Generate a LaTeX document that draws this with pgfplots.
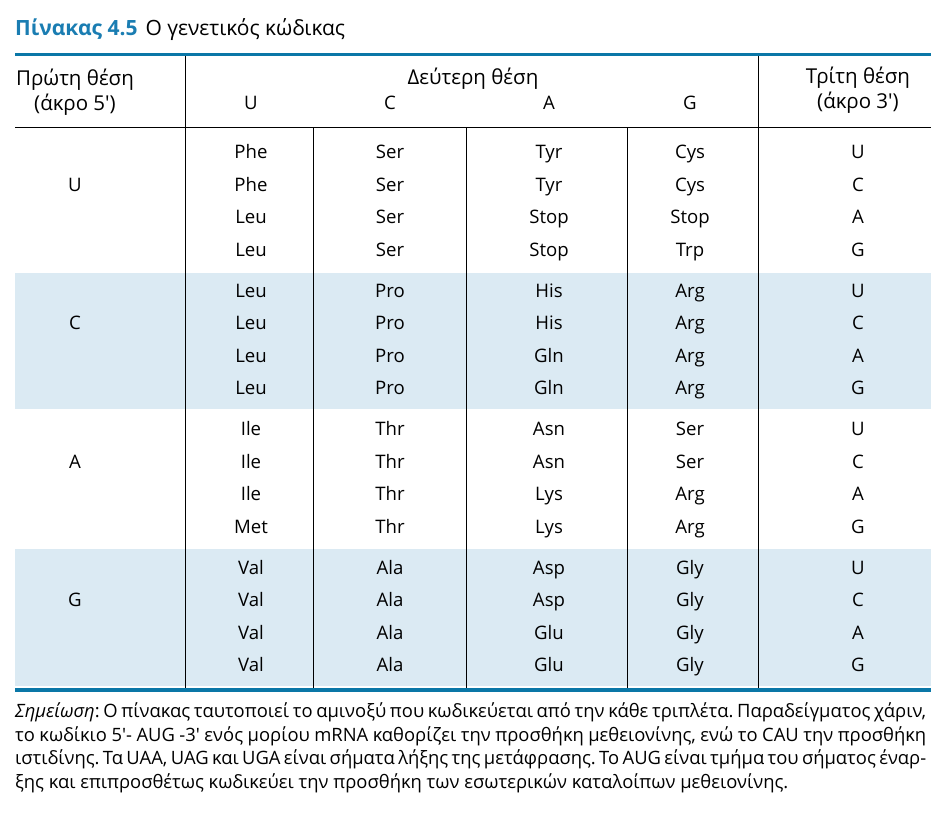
\documentclass[border=0pt]{standalone}
\usepackage{fontspec}
\setmainfont{Open Sans}
\usepackage{pgfplots}
\pgfplotsset{compat=1.18}
\definecolor{rulecol}{HTML}{0A77A7}
\definecolor{titleblue}{HTML}{1A7DB2}
\definecolor{rowshade}{HTML}{DBEAF3}
\frenchspacing

% one table cell: x, baseline y, text
\newcommand\cell[3]{\node[anchor=base,inner sep=0pt,font=\fontsize{18.6}{20}\selectfont] at (axis cs:#1,#2) {#3};}
\newcommand\row[6]{\cell{251}{#1}{#2}\cell{390}{#1}{#3}\cell{549}{#1}{#4}\cell{690}{#1}{#5}\cell{858}{#1}{#6}}
\newcommand\hd[3]{\node[anchor=base,inner sep=0pt,font=\fontsize{20.5}{22}\selectfont] at (axis cs:#1,#2) {#3};}
\newcommand\noteline[2]{\node[anchor=base west,inner sep=0pt,font=\fontsize{18.4}{20}\selectfont] at (axis cs:15,#1) {#2};}

\begin{document}
\begin{tikzpicture}
\begin{axis}[width=949pt,height=813pt,scale only axis,
  xmin=0,xmax=949,ymin=0,ymax=813,y dir=reverse,hide axis,clip=false]
  \path (axis cs:0,0) rectangle (axis cs:949,813);
  % shaded groups
  \fill[rowshade] (axis cs:15,273.3) rectangle (axis cs:931,409.3);
  \fill[rowshade] (axis cs:15,549.3) rectangle (axis cs:931,685.5);
  % title
  \node[anchor=base west,inner sep=0pt,font=\fontsize{21}{22}\selectfont] at (axis cs:15,36)
    {\textcolor{titleblue}{\bfseries Πίνακας 4.5}\hspace{8pt}Ο γενετικός κώδικας};
  % rules
  \draw[rulecol,line width=3.3pt] (axis cs:15,54.5) -- (axis cs:931,54.5);
  \draw[rulecol,line width=3.3pt] (axis cs:15,690) -- (axis cs:931,690);
  \draw[black,line width=1pt] (axis cs:15,127.5) -- (axis cs:931,127.5);
  \draw[black,line width=1pt] (axis cs:185.3,56) -- (axis cs:185.3,688.3);
  \draw[black,line width=1pt] (axis cs:758.7,56) -- (axis cs:758.7,688.3);
  \draw[black,line width=1pt] (axis cs:313.3,127.5) -- (axis cs:313.3,688.3);
  \draw[black,line width=1pt] (axis cs:466.7,127.5) -- (axis cs:466.7,688.3);
  \draw[black,line width=1pt] (axis cs:627,127.5) -- (axis cs:627,688.3);
  % header
  \hd{75}{86}{Πρώτη θέση}
  \hd{75}{110.5}{(άκρο 5′)}
  \hd{473}{85}{Δεύτερη θέση}
  \hd{858}{84}{Τρίτη θέση}
  \hd{858}{109}{(άκρο 3′)}
  \cell{251}{110}{U}\cell{390}{110}{C}\cell{549}{110}{A}\cell{690}{110}{G}
  % first position
  \cell{75}{191.1}{U}
  \cell{75}{329.6}{C}
  \cell{75}{468.1}{A}
  \cell{75}{606.6}{G}
  % codon table
  \row{158.5}{Phe}{Ser}{Tyr}{Cys}{U}
  \row{191.1}{Phe}{Ser}{Tyr}{Cys}{C}
  \row{223.7}{Leu}{Ser}{Stop}{Stop}{A}
  \row{256.3}{Leu}{Ser}{Stop}{Trp}{G}
  \row{297.0}{Leu}{Pro}{His}{Arg}{U}
  \row{329.6}{Leu}{Pro}{His}{Arg}{C}
  \row{362.2}{Leu}{Pro}{Gln}{Arg}{A}
  \row{394.8}{Leu}{Pro}{Gln}{Arg}{G}
  \row{435.5}{Ile}{Thr}{Asn}{Ser}{U}
  \row{468.1}{Ile}{Thr}{Asn}{Ser}{C}
  \row{500.7}{Ile}{Thr}{Lys}{Arg}{A}
  \row{533.3}{Met}{Thr}{Lys}{Arg}{G}
  \row{574.0}{Val}{Ala}{Asp}{Gly}{U}
  \row{606.6}{Val}{Ala}{Asp}{Gly}{C}
  \row{639.2}{Val}{Ala}{Glu}{Gly}{A}
  \row{671.8}{Val}{Ala}{Glu}{Gly}{G}
  % note
  \noteline{717.3}{\makebox[911pt][s]{\textit{Σημείωση}: Ο πίνακας ταυτοποιεί το αμινοξύ που κωδικεύεται από την κάθε τριπλέτα. Παραδείγματος χάριν,}}
  \noteline{741.0}{\makebox[911pt][s]{το κωδίκιο 5′- AUG -3′ ενός μορίου mRNA καθορίζει την προσθήκη μεθειονίνης, ενώ το CAU την προσθήκη}}
  \noteline{764.7}{\makebox[911pt][s]{ιστιδίνης. Τα UAA, UAG και UGA είναι σήματα λήξης της μετάφρασης. Το AUG είναι τμήμα του σήματος έναρ-}}
  \noteline{788.4}{ξης και επιπροσθέτως κωδικεύει την προσθήκη των εσωτερικών καταλοίπων μεθειονίνης.}
\end{axis}
\end{tikzpicture}
\end{document}
